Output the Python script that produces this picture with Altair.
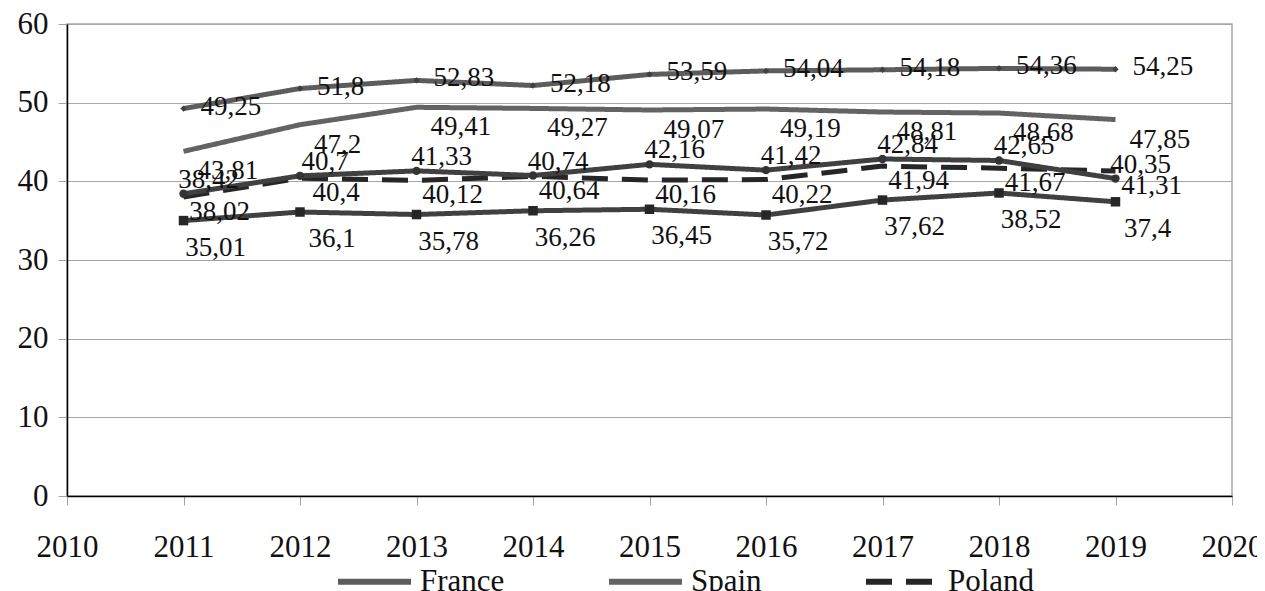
import altair as alt
import pandas as pd

years = [2011, 2012, 2013, 2014, 2015, 2016, 2017, 2018, 2019]
france = [49.25, 51.8, 52.83, 52.18, 53.59, 54.04, 54.18, 54.36, 54.25]
spain = [43.81, 47.2, 49.41, 49.27, 49.07, 49.19, 48.81, 48.68, 47.85]
series4 = [38.42, 40.7, 41.33, 40.74, 42.16, 41.42, 42.84, 42.65, 40.35]
poland = [38.02, 40.4, 40.12, 40.64, 40.16, 40.22, 41.94, 41.67, 41.31]
series5 = [35.01, 36.1, 35.78, 36.26, 36.45, 35.72, 37.62, 38.52, 37.4]

series_names = ["France", "Spain", "Poland", "Series 4", "Series 5"]
legend_names = ["France", "Spain", "Poland"]
x_ticks = [2010, 2011, 2012, 2013, 2014, 2015, 2016, 2017, 2018, 2019, 2020]
y_ticks = [0, 10, 20, 30, 40, 50, 60]

rows = []
for name, vals in [("France", france), ("Spain", spain), ("Poland", poland),
                   ("Series 4", series4), ("Series 5", series5)]:
    for yr, v in zip(years, vals):
        rows.append({"year": yr, "value": v, "series": name,
                     "label": f"{v:g}".replace(".", ",")})
df = pd.DataFrame(rows)

FONT = "'Liberation Serif', 'Times New Roman', Times, serif"
colors = ["#5c5c5c", "#636363", "#262626", "#404040", "#404040"]
dashes = [[1, 0], [1, 0], [26, 14], [1, 0], [1, 0]]

x_enc = alt.X("year:Q", scale=alt.Scale(domain=[2010, 2020], nice=False),
              axis=alt.Axis(values=x_ticks, format="d", title=None, grid=False,
                            labelFont=FONT, labelFontSize=31, labelColor="#111",
                            tickSize=9, tickColor="#a6a6a6", labelPadding=27,
                            domainColor="#000", domainWidth=1.5, labelFlush=False))
y_enc = alt.Y("value:Q", scale=alt.Scale(domain=[0, 60], nice=False),
              axis=alt.Axis(values=y_ticks, title=None, grid=True, gridColor="#a6a6a6",
                            labelFont=FONT, labelFontSize=31, labelColor="#111",
                            tickSize=9, tickColor="#a6a6a6", labelPadding=10,
                            domainColor="#000", domainWidth=1.5))

base = alt.Chart(df)

lines = base.mark_line(strokeWidth=5).encode(
    x=x_enc, y=y_enc,
    color=alt.Color("series:N", scale=alt.Scale(domain=series_names, range=colors),
                    legend=alt.Legend(values=legend_names, title=None)),
    strokeDash=alt.StrokeDash("series:N", scale=alt.Scale(domain=series_names, range=dashes),
                              legend=alt.Legend(values=legend_names, title=None)),
)

def pts(name, shape, size, color):
    return base.transform_filter(alt.datum.series == name).mark_point(
        shape=shape, size=size, filled=True, color=color, opacity=1
    ).encode(x="year:Q", y="value:Q")

points = [pts("France", "diamond", 40, "#404040"),
          pts("Series 4", "circle", 70, "#333333"),
          pts("Series 5", "square", 90, "#262626")]

def labels(name, align, dx, dy):
    return base.transform_filter(alt.datum.series == name).mark_text(
        font=FONT, fontSize=27, color="#111", align=align, baseline="middle", dx=dx, dy=dy
    ).encode(x="year:Q", y="value:Q", text="label:N")

texts = [labels("France", "left", 17, -2),
         labels("Spain", "left", 14, 20),
         labels("Series 4", "center", 25, -14),
         labels("Poland", "center", 36, 15),
         labels("Series 5", "center", 32, 27)]

chart = alt.layer(lines, *points, *texts).properties(
    width=1165, height=472,
    autosize=alt.AutoSizeParams(type="none"),
    padding={"left": 59, "top": 16, "right": 25, "bottom": 95},
).configure_view(stroke="#a6a6a6", strokeWidth=1.5).configure_legend(
    orient="none", legendX=268, legendY=518, direction="horizontal",
    symbolType="stroke", symbolSize=5329, symbolStrokeWidth=6,
    labelFont=FONT, labelFontSize=31, labelColor="#111", labelOffset=6,
    columnPadding=92, padding=0,
)

chart.save("out.html", embed_options={"renderer": "svg", "actions": False})
